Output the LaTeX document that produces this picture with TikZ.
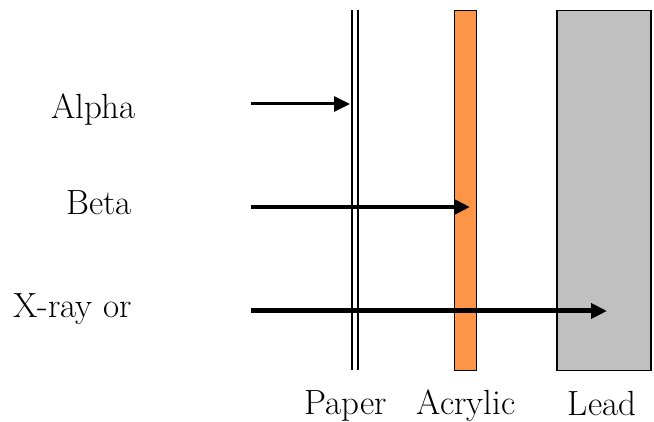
\documentclass[tikz,border=0pt]{standalone}
\usetikzlibrary{arrows.meta}
\definecolor{acryl}{RGB}{253,149,73}
\definecolor{leadgray}{RGB}{192,192,192}
\tikzset{
  lbl/.style={anchor=base, inner sep=0pt, font=\fontsize{35}{38}\selectfont},
  ray/.style={line width=#1, -{Triangle[length=16pt,width=15pt]}},
  sheet/.style={draw=black, line width=1.5pt},
  paperline/.style={line width=2pt}
}
\begin{document}
\begin{tikzpicture}[x=1pt,y=-1pt]
\useasboundingbox (0,0) rectangle (654,422);
% shields
\draw[paperline] (351.5,10) coordinate (p1t) -- (351.5,370) coordinate (p1b);
\draw[paperline] (357.5,10) coordinate (p2t) -- (357.5,370) coordinate (p2b);
\node[sheet, fill=acryl, minimum width=22pt, minimum height=360pt, inner sep=0pt, anchor=north west] (acrylic) at (453.5,10) {};
\node[sheet, fill=leadgray, minimum width=94pt, minimum height=360pt, inner sep=0pt, anchor=north west] (lead) at (556,10) {};
% ray labels
\node[lbl] (alpha) at (93.5,119) {Alpha};
\node[lbl] (beta) at (99,215) {Beta};
\node[lbl] (xray) at (72.5,318) {X-ray or};
% shield labels
\node[lbl] (lpaper) at (345.5,414) {Paper};
\node[lbl] (lacryl) at (466,414) {Acrylic};
\node[lbl] (llead) at (602,415) {Lead};
% rays
\coordinate (a0) at (251,104);
\coordinate (a1) at (350,104);
\coordinate (b0) at (251,207);
\coordinate (b1) at (470,207);
\coordinate (x0) at (251,311);
\coordinate (x1) at (607,311);
\draw[ray=3pt] (a0) -- (a1);
\draw[ray=4.5pt] (b0) -- (b1);
\draw[ray=5pt] (x0) -- (x1);
\end{tikzpicture}
\end{document}
